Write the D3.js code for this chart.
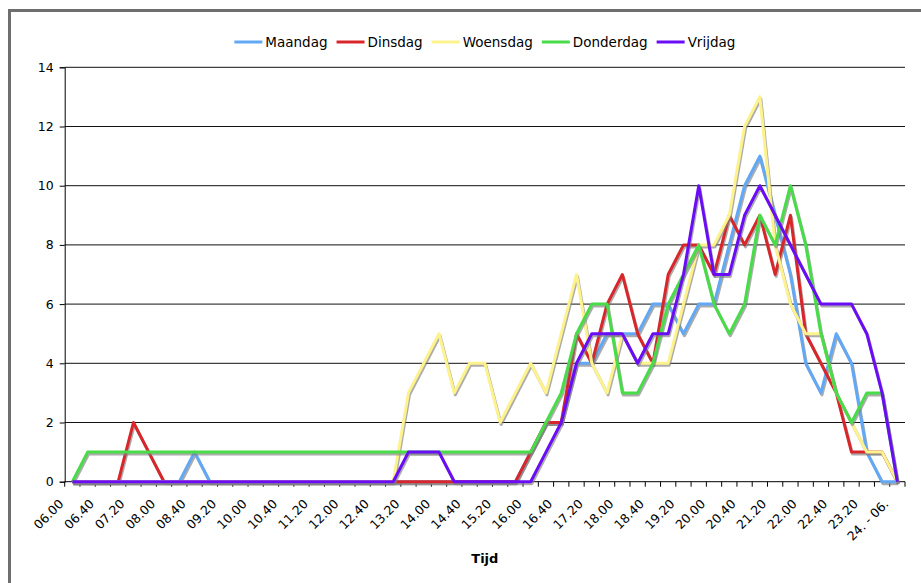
<!DOCTYPE html>
<html>
<head>
<meta charset="utf-8">
<script src="https://cdn.jsdelivr.net/npm/d3@7"></script>
<style>
  html, body { margin: 0; padding: 0; background: #fff; }
  svg { display: block; font-family: "DejaVu Sans", Verdana, sans-serif; }
</style>
</head>
<body>
<div id="chart"></div>
<script>
// categories (every 20 minutes), only every other one gets a label
const categories = [
  "06.00","06.20","06.40","07.00","07.20","07.40","08.00","08.20","08.40","09.00",
  "09.20","09.40","10.00","10.20","10.40","11.00","11.20","11.40","12.00","12.20",
  "12.40","13.00","13.20","13.40","14.00","14.20","14.40","15.00","15.20","15.40",
  "16.00","16.20","16.40","17.00","17.20","17.40","18.00","18.20","18.40","19.00",
  "19.20","19.40","20.00","20.20","20.40","21.00","21.20","21.40","22.00","22.20",
  "22.40","23.00","23.20","23.40","24. - 06."
];

const maandag = [
  0,0,0,0,0,0,0,0,1,0,
  0,0,0,0,0,0,0,0,0,0,
  0,0,0,0,0,0,0,0,0,0,
  1,2,2,4,4,5,5,5,6,6,
  5,6,6,8,10,11,9,7,4,3,
  5,4,1,0,0
];
const dinsdag = [
  0,0,0,0,2,1,0,0,0,0,
  0,0,0,0,0,0,0,0,0,0,
  0,0,0,0,0,0,0,0,0,0,
  1,2,2,5,4,6,7,5,4,7,
  8,8,7,9,8,9,7,9,5,4,
  3,1,1,1,0
];
const woensdag = [
  0,0,0,0,0,0,0,0,0,0,
  0,0,0,0,0,0,0,0,0,0,
  0,0,3,4,5,3,4,4,2,3,
  4,3,5,7,4,3,5,4,4,4,
  6,8,8,9,12,13,8,6,5,5,
  3,2,1,1,0
];
const donderdag = [
  0,1,1,1,1,1,1,1,1,1,
  1,1,1,1,1,1,1,1,1,1,
  1,1,1,1,1,1,1,1,1,1,
  1,2,3,5,6,6,3,3,4,6,
  7,8,6,5,6,9,8,10,8,5,
  3,2,3,3,0
];
const vrijdag = [
  0,0,0,0,0,0,0,0,0,0,
  0,0,0,0,0,0,0,0,0,0,
  0,0,1,1,1,0,0,0,0,0,
  0,1,2,4,5,5,5,4,5,5,
  7,10,7,7,9,10,9,8,7,6,
  6,6,5,3,0
];

const seriesNames = ["Maandag","Dinsdag","Woensdag","Donderdag","Vrijdag"];
const seriesColors = ["#62a8f5","#d8262b","#fdf28c","#48dc48","#6a0cf5"];
const yTicks = [0,2,4,6,8,10,12,14];
const axisTitle = "Tijd";

(() => {
  const width = 921, height = 583;
  const left = 64.7, right = 905, top = 67.3, bottom = 481.7;

  const svg = d3.select("#chart").append("svg")
    .attr("width", width).attr("height", height);

  // outer frame
  svg.append("rect")
    .attr("x", 9.5).attr("y", 10.5)
    .attr("width", 1000).attr("height", 1000)
    .attr("fill", "#fff")
    .attr("stroke", "#6e6e6e")
    .attr("stroke-width", 3);

  const x = d3.scaleBand().domain(categories).range([left, right]).paddingInner(0).paddingOuter(0);
  const cx = c => x(c) + x.bandwidth() / 2;
  const y = d3.scaleLinear().domain([0, 14]).range([bottom, top]);

  // gridlines
  svg.append("g")
    .selectAll("line")
    .data(yTicks.filter(v => v > 0))
    .join("line")
    .attr("x1", left).attr("x2", right)
    .attr("y1", d => y(d)).attr("y2", d => y(d))
    .attr("stroke", "#111")
    .attr("stroke-width", 1);

  // y axis
  svg.append("g")
    .attr("transform", `translate(${left},0)`)
    .call(d3.axisLeft(y).tickValues(yTicks).tickSize(5).tickPadding(6).tickFormat(d3.format("d")))
    .call(g => g.select(".domain").attr("stroke", "#000"))
    .call(g => g.selectAll("line").attr("stroke", "#000"))
    .call(g => g.selectAll("text")
      .attr("fill", "#000")
      .style("font-size", "12.5px")
      .style("font-family", "'DejaVu Sans', Verdana, sans-serif"));

  // x axis line + ticks on category boundaries
  const xa = svg.append("g");
  xa.append("line")
    .attr("x1", left).attr("x2", right)
    .attr("y1", bottom).attr("y2", bottom)
    .attr("stroke", "#000");
  xa.selectAll("line.tick")
    .data(categories.map(c => x(c)).concat([right]))
    .join("line")
    .attr("class", "tick")
    .attr("x1", d => d).attr("x2", d => d)
    .attr("y1", bottom).attr("y2", bottom + 5)
    .attr("stroke", "#000");
  xa.selectAll("text")
    .data(categories.filter((c, i) => i % 2 === 0))
    .join("text")
    .attr("transform", d => `translate(${cx(d) - 8},${bottom + 23}) rotate(-45)`)
    .attr("text-anchor", "end")
    .attr("fill", "#000")
    .style("font-size", "12.5px")
    .text(d => d);

  svg.append("text")
    .attr("x", (left + right) / 2).attr("y", 563)
    .attr("text-anchor", "middle")
    .attr("fill", "#000")
    .style("font-size", "13px")
    .style("font-weight", "bold")
    .text(axisTitle);

  // lines with a flat grey shadow
  const allSeries = [maandag, dinsdag, woensdag, donderdag, vrijdag];
  const line = d3.line()
    .x((d, i) => cx(categories[i]))
    .y(d => y(d));

  allSeries.forEach((vals, k) => {
    svg.append("path")
      .attr("d", line(vals))
      .attr("transform", "translate(1,2)")
      .attr("fill", "none")
      .attr("stroke", "#808080")
      .attr("stroke-opacity", 0.65)
      .attr("stroke-width", 3)
      .attr("stroke-linejoin", "round");
    svg.append("path")
      .attr("d", line(vals))
      .attr("fill", "none")
      .attr("stroke", seriesColors[k])
      .attr("stroke-width", 3)
      .attr("stroke-linejoin", "round");
  });

  // legend
  const legend = svg.append("g");
  let lx = 0;
  seriesNames.forEach((name, k) => {
    const item = legend.append("g").attr("transform", `translate(${lx},0)`);
    item.append("line")
      .attr("x1", 0).attr("x2", 28)
      .attr("y1", 42).attr("y2", 42)
      .attr("stroke", seriesColors[k])
      .attr("stroke-width", 3);
    const t = item.append("text")
      .attr("x", 31).attr("y", 46.5)
      .attr("fill", "#000")
      .style("font-size", "13.5px")
      .text(name);
    lx += 31 + t.node().getComputedTextLength() + 9;
  });
  const total = lx - 9;
  legend.attr("transform", `translate(${(left + right) / 2 - total / 2},0)`);
})();
</script>
</body>
</html>
